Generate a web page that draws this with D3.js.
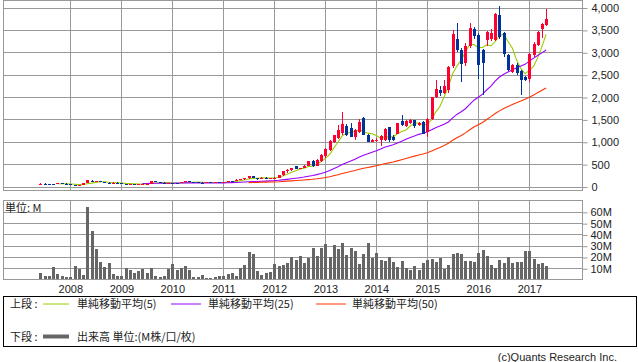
<!DOCTYPE html>
<html>
<head>
<meta charset="utf-8">
<script src="https://cdn.jsdelivr.net/npm/d3@7/dist/d3.min.js"></script>
<style>
  body { margin: 0; background: #fff; }
  svg { display: block; }
  text { font-family: "Liberation Sans", Arial, sans-serif; font-size: 11px; fill: #222; }
  .jp { font-family: "Noto Sans CJK JP", sans-serif; }
</style>
</head>
<body>
<div id="chart"></div>
<script>
'use strict';

// monthly candles, first bar is June 2007
const firstMonth = new Date(2007, 5, 1);

const open = [
  50, 65, 60, 58, 55, 70, 62,
  58, 30, 26, 30, 78, 128, 102, 112, 96, 82, 78, 86,
  84, 60, 40, 55, 52, 56, 58, 65, 115, 100, 85, 70,
  74, 72, 70, 100, 118, 100, 90, 88, 86, 90, 88, 92,
  90, 95, 122, 118, 150, 162, 180, 225, 186, 170, 196, 190,
  192, 198, 250, 338, 378, 450, 392, 415, 455, 565, 455, 560,
  680, 820, 1000, 1080, 1200, 1350, 1300, 1110, 1220, 1540, 1150, 1000,
  1020, 1035, 1035, 1330, 1110, 1184, 1460, 1362, 1408, 1482, 1370, 1445,
  1220, 1500, 2000, 2160, 2080, 2150, 2690, 3300, 3050, 2750, 3140, 3520,
  3380, 3040, 3280, 3300, 3280, 3830, 3420, 2930, 2560, 2710, 2570, 2440,
  2410, 2930, 3160, 3530, 3600
];
const high = [
  72, 72, 66, 64, 75, 78, 68,
  60, 36, 34, 82, 150, 145, 118, 115, 100, 100, 90, 92,
  88, 65, 60, 62, 60, 62, 70, 125, 120, 105, 90, 78,
  80, 78, 105, 125, 122, 105, 96, 94, 92, 96, 94, 98,
  100, 128, 130, 160, 168, 190, 235, 232, 200, 205, 205, 200,
  205, 258, 345, 385, 420, 462, 420, 470, 570, 600, 610, 730,
  850, 1030, 1160, 1380, 1670, 1400, 1430, 1290, 1500, 1545, 1170, 1060,
  1080, 1140, 1310, 1340, 1150, 1420, 1590, 1480, 1500, 1490, 1440, 1460,
  1530, 2010, 2380, 2250, 2380, 2700, 3500, 3660, 3100, 3200, 3660, 3560,
  3420, 3080, 3480, 3520, 3880, 4030, 3450, 2950, 2740, 2760, 2600, 2460,
  2990, 3220, 3470, 3660, 3960
];
const low = [
  45, 58, 52, 50, 52, 60, 55,
  25, 22, 20, 28, 75, 98, 95, 92, 78, 45, 72, 78,
  55, 35, 35, 48, 48, 50, 52, 62, 95, 80, 65, 65,
  68, 66, 68, 95, 95, 85, 82, 80, 80, 84, 82, 86,
  85, 92, 112, 115, 138, 155, 170, 180, 155, 165, 180, 178,
  182, 192, 245, 300, 340, 385, 385, 410, 450, 440, 450, 540,
  640, 800, 980, 1060, 1150, 1120, 1100, 1050, 1190, 1140, 990, 990,
  1000, 910, 1020, 1000, 1020, 1170, 1360, 1340, 1400, 1300, 1360, 1180,
  1110, 1480, 1980, 2020, 2060, 2100, 2650, 3000, 2330, 2700, 3100, 3300,
  2410, 2050, 3150, 3250, 3250, 3300, 2900, 2580, 2530, 2500, 2040, 2360,
  2330, 2900, 3140, 3320, 3580
];
const close = [
  65, 60, 58, 55, 70, 62, 58,
  30, 26, 30, 78, 140, 102, 112, 96, 82, 78, 86, 84,
  60, 40, 55, 52, 56, 58, 65, 115, 100, 85, 70, 74,
  72, 70, 100, 118, 100, 90, 88, 86, 90, 88, 92, 90,
  95, 122, 118, 150, 162, 180, 228, 186, 170, 196, 190, 192,
  198, 250, 338, 378, 410, 392, 415, 455, 560, 455, 600, 700,
  830, 1010, 1140, 1270, 1390, 1150, 1110, 1260, 1440, 1150, 1000, 1050,
  1050, 1130, 1290, 1035, 1035, 1408, 1370, 1466, 1482, 1347, 1422, 1184,
  1510, 1990, 2180, 2080, 2250, 2680, 3400, 3050, 2740, 3150, 3550, 3370,
  2710, 2750, 3450, 3440, 3850, 3340, 2970, 2600, 2710, 2530, 2380, 2380,
  2970, 3190, 3450, 3640, 3740
];
// volume, millions
const volume = [
  5.9, 3.2, 3.5, 11.3, 4.7, 2.9, 1.8,
  2.0, 11.9, 9.2, 3.8, 64.5, 43, 27, 15.7, 11.3, 14.6, 4.5, 3.5,
  2.9, 9.8, 8.6, 5.9, 7.4, 9.2, 5.9, 10.1, 2.9, 1.8, 2.7, 9.2,
  13.7, 8.6, 10.4, 11.9, 8.6, 2.3, 2.6, 3.8, 1.5, 1.5, 2.3, 2.9,
  2.9, 4.7, 5.6, 2.7, 10.1, 12.8, 24, 22.6, 7.4, 3.8, 5.6, 6.8,
  13.7, 12.2, 13.1, 14.9, 20, 17.3, 20.8, 14.9, 19.1, 28.3, 20.8, 28.3,
  31.6, 20, 30.7, 27, 32.5, 21.7, 28.3, 25.3, 13.7, 22.6, 32.5, 19.4,
  23.5, 17.3, 16.4, 20, 15.5, 11.3, 16.4, 10.1, 8.3, 11.9, 8.6, 14.6,
  17.6, 18.5, 15.5, 19.1, 9.2, 12.8, 22.6, 23.5, 22.6, 16.4, 16.4, 15.5,
  23.5, 26.2, 20.8, 12.8, 10.1, 17.3, 14.6, 20, 14.6, 15.5, 15.5, 25.3,
  25.3, 18.2, 13.7, 14.6, 11.9
];

const priceTicks = [0, 500, 1000, 1500, 2000, 2500, 3000, 3500, 4000];
const volumeTicks = [10, 20, 30, 40, 50, 60];
const yearTicks = [2008, 2009, 2010, 2011, 2012, 2013, 2014, 2015, 2016, 2017];
const maPeriods = [5, 25, 50];
const maLabels = ['単純移動平均(5)', '単純移動平均(25)', '単純移動平均(50)'];

const W = 638, H = 362;
const left = 3, right = 582;
const grid = '#999';
const upColor = '#ff0033', downColor = '#003399';
const maColors = ['#99cc00', '#9900ff', '#ff3300'];

const svg = d3.select('#chart').append('svg')
    .attr('width', W)
    .attr('height', H);

const bars = close.map((c, i) => ({
  date: d3.timeMonth.offset(firstMonth, i),
  o: open[i], h: high[i], l: low[i], c: c, v: volume[i]
}));

const x = d3.scaleTime()
    .domain([new Date(2006, 8, 6), new Date(2018, 0, 13)])
    .range([left, right]);
const y = d3.scaleLinear().domain([0, 4000]).range([186.5, 7.5]);
const yv = d3.scaleLinear().domain([0, 70]).range([279.5, 200.6]);

const yearDates = yearTicks.map(yr => new Date(yr, 0, 1));
const px = v => Math.round(v) + 0.5;

// ---- price panel
const upper = svg.append('g');
upper.selectAll('.hgrid').data(priceTicks).enter().append('line')
    .attr('x1', left).attr('x2', right)
    .attr('y1', d => px(y(d))).attr('y2', d => px(y(d)))
    .attr('stroke', grid);
upper.selectAll('.vgrid').data(yearDates).enter().append('line')
    .attr('x1', d => px(x(d))).attr('x2', d => px(x(d)))
    .attr('y1', 0.5).attr('y2', 190.5)
    .attr('stroke', grid);
upper.append('rect')
    .attr('x', left + 0.5).attr('y', 0.5)
    .attr('width', right - left).attr('height', 190)
    .attr('fill', 'none').attr('stroke', grid);

const yAxis = d3.axisRight(y).tickValues(priceTicks)
    .tickFormat(d3.format(',')).tickSize(5).tickPadding(4);
upper.append('g')
    .attr('transform', `translate(${right + 0.5},0.5)`)
    .call(yAxis)
    .call(g => g.select('.domain').remove())
    .call(g => g.selectAll('line').attr('stroke', grid))
    .call(g => g.selectAll('text').attr('fill', '#222').attr('font-size', 11)
        .attr('font-family', '"Liberation Sans", Arial, sans-serif'));

// moving averages
const maLine = d3.line()
    .defined(d => d.v != null)
    .x(d => x(d.date))
    .y(d => y(d.v));
maPeriods.forEach((n, k) => {
  const ma = bars.map((b, i) => ({
    date: b.date,
    v: i < n - 1 ? null : d3.mean(close.slice(i - n + 1, i + 1))
  }));
  upper.append('path')
      .datum(ma)
      .attr('d', maLine)
      .attr('fill', 'none')
      .attr('stroke', maColors[k])
      .attr('stroke-width', 1.1);
});

// candles
const candles = upper.selectAll('.candle').data(bars).enter().append('g');
candles.append('line')
    .attr('x1', d => px(x(d.date))).attr('x2', d => px(x(d.date)))
    .attr('y1', d => y(d.h)).attr('y2', d => y(d.l))
    .attr('stroke', d => d.c >= d.o ? upColor : downColor)
    .attr('shape-rendering', 'crispEdges');
candles.append('rect')
    .attr('x', d => Math.round(x(d.date)) - 1)
    .attr('width', 3)
    .attr('y', d => y(Math.max(d.o, d.c)))
    .attr('height', d => Math.max(1, Math.abs(y(d.o) - y(d.c))))
    .attr('fill', d => d.c >= d.o ? upColor : downColor)
    .attr('shape-rendering', 'crispEdges');

// ---- volume panel
const lower = svg.append('g');
lower.selectAll('.hgrid').data(volumeTicks).enter().append('line')
    .attr('x1', left).attr('x2', right)
    .attr('y1', d => px(yv(d))).attr('y2', d => px(yv(d)))
    .attr('stroke', grid);
lower.selectAll('.vgrid').data(yearDates).enter().append('line')
    .attr('x1', d => px(x(d))).attr('x2', d => px(x(d)))
    .attr('y1', 200.5).attr('y2', 279.5)
    .attr('stroke', grid);

lower.selectAll('.vol').data(bars).enter().append('rect')
    .attr('x', d => Math.round(x(d.date)) - 1)
    .attr('width', 3)
    .attr('y', d => yv(d.v))
    .attr('height', d => yv(0) - yv(d.v))
    .attr('fill', '#666')
    .attr('shape-rendering', 'crispEdges');

lower.append('rect')
    .attr('x', left + 0.5).attr('y', 200.5)
    .attr('width', right - left).attr('height', 79)
    .attr('fill', 'none').attr('stroke', grid);

const vAxis = d3.axisRight(yv).tickValues(volumeTicks)
    .tickFormat(d => d + 'M').tickSize(5).tickPadding(3);
lower.append('g')
    .attr('transform', `translate(${right + 0.5},0.5)`)
    .call(vAxis)
    .call(g => g.select('.domain').remove())
    .call(g => g.selectAll('line').attr('stroke', grid))
    .call(g => g.selectAll('text').attr('fill', '#222').attr('font-size', 11)
        .attr('font-family', '"Liberation Sans", Arial, sans-serif'));

lower.append('text')
    .attr('class', 'jp')
    .attr('x', 5).attr('y', 212)
    .text('単位: M');

// year labels
const xAxis = d3.axisBottom(x).tickValues(yearDates)
    .tickFormat(d3.timeFormat('%Y')).tickSize(0).tickPadding(4);
svg.append('g')
    .attr('transform', 'translate(0,281)')
    .call(xAxis)
    .call(g => g.select('.domain').remove())
    .call(g => g.selectAll('text').attr('fill', '#222').attr('font-size', 11)
        .attr('font-family', '"Liberation Sans", Arial, sans-serif'));

// ---- legend
const legend = svg.append('g');
legend.append('rect')
    .attr('x', 3.5).attr('y', 296.5)
    .attr('width', 633).attr('height', 50)
    .attr('fill', 'none').attr('stroke', '#000');

const row1 = 307.5, row2 = 340.5;
legend.append('text').attr('class', 'jp').attr('x', 10).attr('y', row1).text('上段 :');
const legendX = [[43, 69, 77], [171, 201, 208], [316, 346, 352]];
maLabels.forEach((label, k) => {
  const [a, b, t] = legendX[k];
  legend.append('line')
      .attr('x1', a).attr('x2', b)
      .attr('y1', row1 - 3.5).attr('y2', row1 - 3.5)
      .attr('stroke', maColors[k]);
  legend.append('text').attr('class', 'jp').attr('x', t).attr('y', row1).text(label);
});
legend.append('text').attr('class', 'jp').attr('x', 10).attr('y', row2).text('下段 :');
legend.append('line')
    .attr('x1', 43).attr('x2', 69)
    .attr('y1', row2 - 4).attr('y2', row2 - 4)
    .attr('stroke', '#666').attr('stroke-width', 4);
legend.append('text').attr('class', 'jp').attr('x', 77).attr('y', row2)
    .text('出来高 単位:(M株/口/枚)');

svg.append('text')
    .attr('x', 617).attr('y', 360.5)
    .attr('text-anchor', 'end')
    .attr('fill', '#444')
    .text('(c)Quants Research Inc.');
</script>
</body>
</html>
